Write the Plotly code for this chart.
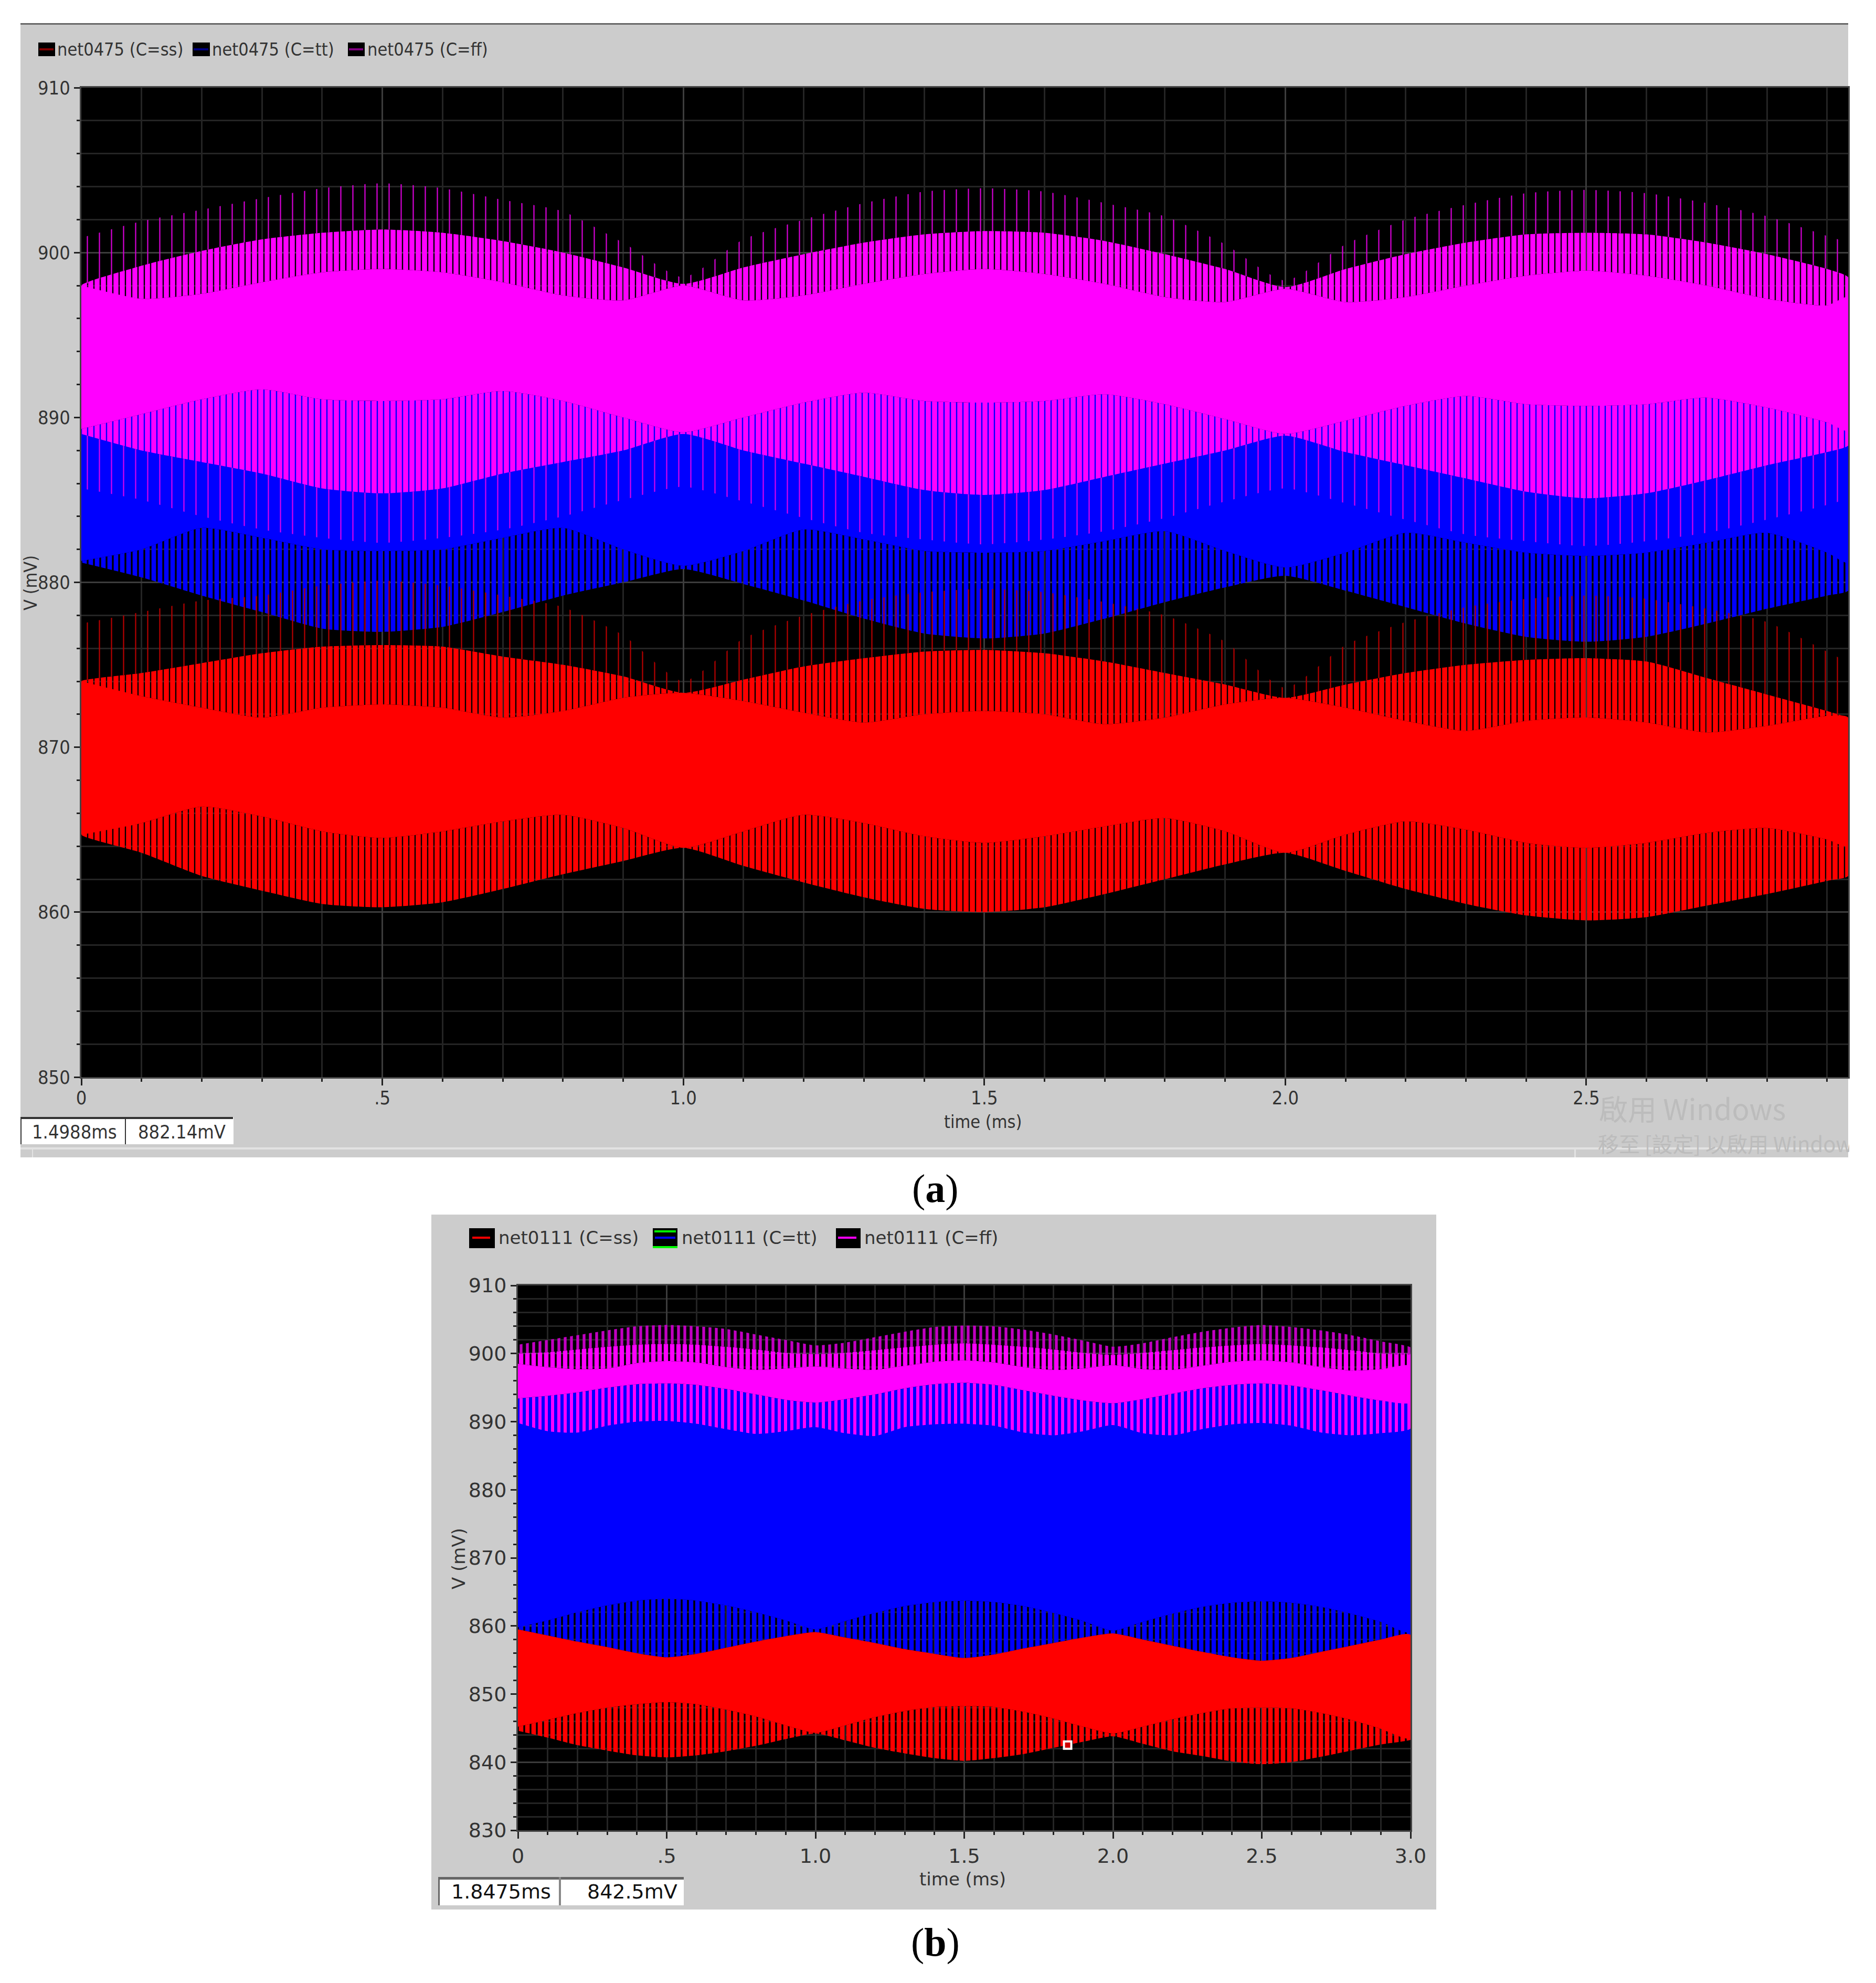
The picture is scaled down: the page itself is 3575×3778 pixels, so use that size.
import plotly.graph_objects as go

page_w = 3575
page_h = 3778
body_margin = 8  # the page keeps the browser's default margin round the plot div

# values, one point per 0.1 ms
t_a = [0, .1, .2, .3, .4, .5, .6, .7, .8, .9, 1.0, 1.1, 1.2, 1.3, 1.4, 1.5, 1.6, 1.7, 1.8, 1.9, 2.0, 2.1, 2.2, 2.3, 2.4, 2.5, 2.6, 2.7, 2.8, 2.9, 2.935]
t_b = [0, .1, .2, .3, .4, .5, .6, .7, .8, .9, 1.0, 1.1, 1.2, 1.3, 1.4, 1.5, 1.6, 1.7, 1.8, 1.9, 2.0, 2.1, 2.2, 2.3, 2.4, 2.5, 2.6, 2.7, 2.8, 2.9, 3.0]

# (a) net0475, C=ff
a_ff_tip = [900.9, 901.9, 902.6, 903.3, 903.9, 904.2, 903.9, 903.2, 902.5, 900.6, 898.5, 900.8, 902, 903, 903.7, 903.9, 903.7, 903, 902.2, 900.5, 898.3, 900.5, 902, 902.9, 903.6, 903.8, 903.6, 903, 902.2, 901, 900.5]
a_ff_top = [898.0, 899.2, 900.1, 900.8, 901.2, 901.4, 901.2, 900.7, 900.0, 899.1, 898.1, 899.1, 899.9, 900.6, 901.1, 901.3, 901.2, 900.7, 899.9, 899, 897.9, 899, 899.9, 900.6, 901.1, 901.2, 901.1, 900.6, 899.9, 899, 898.5]
a_ff_solid_top = [898.0, 897.2, 897.5, 898.2, 898.8, 899.0, 898.8, 898.2, 897.4, 897.1, 898, 897.1, 897.4, 898.1, 898.7, 899, 898.7, 898.1, 897.3, 897, 897.8, 897, 897.3, 898, 898.6, 898.9, 898.6, 898, 897.2, 896.8, 897.3]
a_ff_solid_bot = [889.3, 890.2, 891.1, 891.7, 891.1, 891.0, 891.1, 891.6, 891, 890, 889.1, 890, 890.9, 891.5, 891, 890.9, 891, 891.4, 890.8, 889.9, 889, 889.8, 890.7, 891.3, 890.8, 890.7, 890.8, 891.2, 890.6, 889.7, 889.2]
a_ff_bot = [889, 888, 887.3, 886.6, 885.7, 885.4, 885.7, 886.6, 887.3, 888, 889, 888, 887.2, 886.4, 885.6, 885.3, 885.6, 886.4, 887.2, 888, 888.9, 887.9, 887.1, 886.3, 885.5, 885.1, 885.4, 886.2, 887.1, 887.9, 888.3]
a_ff_low_tip = [885.7, 885, 884, 883.2, 882.7, 882.4, 882.7, 883.2, 884, 885, 885.8, 884.9, 883.9, 883, 882.6, 882.3, 882.6, 883.1, 883.9, 884.9, 885.7, 884.8, 883.8, 882.9, 882.5, 882.2, 882.5, 883, 883.8, 884.7, 885.2]
# (a) net0475, C=tt
a_tt_solid_bot = [881.3, 882, 883.3, 882.7, 882, 881.9, 882, 882.7, 883.3, 882, 881, 881.9, 883.2, 882.6, 881.9, 881.8, 881.9, 882.5, 883.1, 881.9, 880.9, 881.8, 883, 882.4, 881.8, 881.6, 881.8, 882.4, 883, 881.8, 881.2]
a_tt_bot = [881.2, 880.3, 879.2, 878.2, 877.2, 877, 877.3, 878.2, 879.2, 880, 880.8, 879.9, 878.9, 877.8, 876.9, 876.6, 876.9, 877.8, 878.8, 879.7, 880.4, 879.5, 878.5, 877.5, 876.7, 876.4, 876.7, 877.5, 878.4, 879.2, 879.5]
# (a) net0475, C=ss
a_ss_tip = [877.5, 878.2, 878.9, 879.2, 879.8, 880.1, 879.8, 879.2, 878.5, 876.8, 874, 876.6, 878, 878.9, 879.4, 879.6, 879.4, 878.8, 878, 876.4, 873.6, 876.2, 877.6, 878.5, 879, 879.2, 879, 878.4, 877.6, 875.8, 875]
a_ss_top = [874, 874.5, 875.1, 875.7, 876.1, 876.2, 876.1, 875.5, 875, 874.3, 873.3, 874.1, 874.9, 875.4, 875.8, 875.9, 875.7, 875.2, 874.5, 873.8, 873, 873.8, 874.5, 875, 875.3, 875.4, 875.2, 874.2, 873.2, 872.2, 871.8]
a_ss_solid_top = [874, 873.1, 872.4, 871.8, 872.4, 872.6, 872.4, 871.8, 872.2, 873, 873.3, 872.8, 872.1, 871.5, 872, 872.2, 872, 871.4, 871.8, 872.6, 873, 872.4, 871.6, 871, 871.6, 871.8, 871.5, 870.9, 871.3, 871.9, 871.8]
a_ss_solid_bot = [864.7, 865.4, 866.4, 865.8, 864.9, 864.5, 864.9, 865.5, 865.9, 865.1, 863.9, 864.9, 865.9, 865.4, 864.6, 864.2, 864.6, 865.2, 865.7, 864.9, 863.6, 864.7, 865.5, 865, 864.2, 863.9, 864.2, 864.8, 865.1, 864.4, 864]
a_ss_bot = [864.7, 863.6, 862.2, 861.3, 860.5, 860.3, 860.6, 861.4, 862.3, 863.1, 863.9, 862.8, 861.8, 860.9, 860.2, 860, 860.3, 861.1, 862, 862.9, 863.6, 862.5, 861.4, 860.5, 859.8, 859.5, 859.7, 860.4, 861.1, 861.9, 862.2]

# (b) net0111, C=ff
b_ff_tip = [901.3, 902, 902.7, 903.4, 904, 904.2, 904, 903.6, 902.8, 902, 901.2, 901.6, 902.4, 903.2, 903.9, 904.1, 904, 903.5, 902.8, 901.9, 901, 901.5, 902.4, 903.2, 903.8, 904.2, 903.9, 903.4, 902.7, 901.8, 900.9]
b_ff_top = [900, 900.2, 900.6, 901, 901.3, 901.4, 901.3, 901, 900.6, 900.1, 899.9, 900.1, 900.5, 900.9, 901.3, 901.5, 901.3, 901, 900.6, 900.1, 899.8, 900.1, 900.5, 900.9, 901.2, 901.4, 901.2, 900.9, 900.5, 900, 899.9]
b_ff_solid_top = [898.5, 898, 897.7, 897.8, 898.6, 898.9, 898.7, 898, 897.6, 897.8, 898.1, 897.8, 897.6, 898.2, 898.8, 899, 898.7, 898, 897.6, 897.8, 898.3, 897.7, 897.6, 898.2, 898.8, 899, 898.7, 898, 897.5, 897.7, 898.2]
b_ff_solid_bot = [893.4, 893.8, 894.3, 895, 895.5, 895.6, 895.4, 894.8, 894, 893.2, 892.8, 893.3, 894, 894.9, 895.5, 895.7, 895.4, 894.6, 893.8, 893.1, 892.7, 893.3, 894.1, 894.9, 895.4, 895.6, 895.3, 894.6, 893.8, 893.1, 892.8]
b_ff_bot = [889.8, 888.6, 888.4, 889.4, 890, 890.1, 889.7, 888.9, 888.2, 888.6, 889.2, 888.3, 887.9, 889.2, 889.6, 889.7, 889.4, 888.4, 888, 888.6, 889.5, 888.3, 888, 888.9, 889.6, 889.8, 889.4, 888.4, 888, 888.3, 889]
# (b) net0111, C=tt
b_tt_solid_bot = [859.8, 860.8, 862, 863, 863.7, 864, 863.7, 863, 862, 860.8, 859.5, 860.7, 861.9, 862.9, 863.5, 863.7, 863.5, 862.9, 861.9, 860.7, 859.3, 860.6, 861.8, 862.8, 863.4, 863.6, 863.4, 862.8, 861.8, 860.6, 859.1]
# (b) net0111, C=ss
b_ss_top = [859.5, 858.6, 857.7, 856.9, 856, 855.4, 855.9, 856.8, 857.7, 858.5, 859.1, 858.3, 857.5, 856.6, 855.9, 855.3, 855.8, 856.7, 857.5, 858.3, 858.9, 858, 857.1, 856.2, 855.4, 854.9, 855.3, 856.2, 857.1, 858, 858.7]
b_ss_solid_bot = [845.2, 846.2, 847.2, 848, 848.5, 848.8, 848.5, 847.7, 846.7, 845.4, 844.3, 845.4, 846.6, 847.5, 848.1, 848.2, 848.1, 847.4, 846.4, 845.2, 844.2, 845.2, 846.3, 847.2, 847.9, 848, 847.9, 847.2, 846.2, 844.9, 843.5]
b_ss_bot = [844.6, 843.6, 842.5, 841.7, 841, 840.7, 841, 841.6, 842.4, 843.4, 844.2, 843.2, 842.1, 841.3, 840.6, 840.2, 840.6, 841.2, 842.1, 843, 843.8, 842.7, 841.6, 840.9, 840.1, 839.7, 840, 840.8, 841.7, 842.6, 843.3]

# cursor marker in (b)
cursor_t = [1.8475]
cursor_v = [842.5]

x_ticks_a = [0, .5, 1.0, 1.5, 2.0, 2.5]
x_labels_a = ["0", ".5", "1.0", "1.5", "2.0", "2.5"]
x_ticks_b = [0, .5, 1.0, 1.5, 2.0, 2.5, 3.0]
x_labels_b = ["0", ".5", "1.0", "1.5", "2.0", "2.5", "3.0"]
y_ticks_a = [850, 860, 870, 880, 890, 900, 910]
y_ticks_b = [830, 840, 850, 860, 870, 880, 890, 900, 910]

RED = "#ff0000"
BLUE = "#0000ff"
MAGENTA = "#ff00ff"
GRAY = "#cccccc"
NARROW = "DejaVu Sans Condensed"
WIDE = "DejaVu Sans"


def band(t, upper, lower, color, xa, ya, size=None, solidity=None):
    trace = go.Scatter(
        x=t + t[::-1],
        y=upper + lower[::-1],
        mode="lines",
        fill="toself",
        fillcolor=color,
        line=dict(width=0, color=color, shape="spline", smoothing=0.6),
        xaxis=xa,
        yaxis=ya,
        hoverinfo="skip",
        showlegend=False,
    )
    if size:
        trace.fillcolor = "rgba(0,0,0,0)"
        trace.fillpattern = dict(shape="|", size=size, solidity=solidity, fgcolor=color, fgopacity=1,
                                 bgcolor="rgba(0,0,0,0)")
    return trace


fig = go.Figure()

# panel (a), back to front
fig.add_trace(band(t_a, a_ff_solid_bot, a_tt_solid_bot, BLUE, "x", "y"))
fig.add_trace(band(t_a, a_tt_solid_bot, a_tt_bot, BLUE, "x", "y", 12, 0.72))
fig.add_trace(band(t_a, a_ss_top, a_ss_solid_top, RED, "x", "y", 12, 0.8))
fig.add_trace(band(t_a, a_ss_tip, a_ss_top, "#b00000", "x", "y", 23, 0.1))
fig.add_trace(band(t_a, a_ss_solid_top, a_ss_solid_bot, RED, "x", "y"))
fig.add_trace(band(t_a, a_ss_solid_bot, a_ss_bot, RED, "x", "y", 12, 0.8))
fig.add_trace(band(t_a, a_ff_top, a_ff_solid_top, MAGENTA, "x", "y", 12, 0.8))
fig.add_trace(band(t_a, a_ff_tip, a_ff_top, "#d000d0", "x", "y", 23, 0.1))
fig.add_trace(band(t_a, a_ff_solid_top, a_ff_solid_bot, MAGENTA, "x", "y"))
fig.add_trace(band(t_a, a_ff_solid_bot, a_ff_bot, MAGENTA, "x", "y", 12, 0.8))
fig.add_trace(band(t_a, a_ff_bot, a_ff_low_tip, "#d000f0", "x", "y", 23, 0.1))

# panel (b), back to front
fig.add_trace(band(t_b, b_ff_solid_bot, b_tt_solid_bot, BLUE, "x2", "y2"))
fig.add_trace(band(t_b, b_tt_solid_bot, b_ss_top, BLUE, "x2", "y2", 12, 0.7))
fig.add_trace(band(t_b, b_ss_top, b_ss_solid_bot, RED, "x2", "y2"))
fig.add_trace(band(t_b, b_ss_solid_bot, b_ss_bot, RED, "x2", "y2", 12, 0.72))
fig.add_trace(band(t_b, b_ff_top, b_ff_solid_top, MAGENTA, "x2", "y2", 12, 0.7))
fig.add_trace(band(t_b, b_ff_tip, b_ff_top, "#c000c0", "x2", "y2", 12, 0.45))
fig.add_trace(band(t_b, b_ff_solid_top, b_ff_solid_bot, MAGENTA, "x2", "y2"))
fig.add_trace(band(t_b, b_ff_solid_bot, b_ff_bot, MAGENTA, "x2", "y2", 12, 0.5))
fig.add_trace(go.Scatter(x=cursor_t, y=cursor_v, mode="markers", xaxis="x2", yaxis="y2",
                         marker=dict(symbol="square", size=14, color="#d00000", line=dict(color="white", width=4)),
                         hoverinfo="skip", showlegend=False))


def px_x(x):
    return (x - body_margin) / page_w


def px_y(y):
    return 1 - (y - body_margin) / page_h


def rect(x0, y0, x1, y1, fill, layer="below"):
    return dict(type="rect", xref="paper", yref="paper", x0=px_x(x0), x1=px_x(x1), y0=px_y(y0), y1=px_y(y1),
                fillcolor=fill, line=dict(width=0), layer=layer)


def label(x, y, text, size, family=NARROW, color="#333333", xanchor="center", textangle=0, **kw):
    return dict(xref="paper", yref="paper", x=px_x(x), y=px_y(y), text=text, showarrow=False, xanchor=xanchor,
                yanchor="middle", textangle=textangle, font=dict(size=size, family=family, color=color), **kw)


def swatch(x0, x1, y0, y1, line_x0, line_x1, line_y, color, weight=4):
    return [rect(x0, y0, x1, y1, "#000000"), rect(line_x0, line_y - weight / 2, line_x1, line_y + weight / 2, color)]


shapes = [
    # panel chrome
    rect(39, 45, 3522, 2205, GRAY),
    rect(39, 44, 3522, 47, "#666666"),
    rect(39, 2186, 3522, 2190, "#e2e2e2"),
    rect(61, 2190, 63, 2205, "#e2e2e2"),
    rect(3000, 2190, 3003, 2205, "#e2e2e2"),
    rect(822, 2314, 2737, 3638, GRAY),
    # plot backgrounds
    rect(155, 167, 3522, 2055, "#000000"),
    rect(987, 2449, 2688, 3487, "#000000"),
    # readout boxes
    rect(39, 2128, 445, 2180, "#ffffff"),
    rect(39, 2128, 444, 2132, "#333333"),
    rect(39, 2128, 41, 2180, "#333333"),
    rect(238, 2128, 240, 2180, "#333333"),
    rect(835, 3576, 1303, 3630, "#ffffff"),
    rect(835, 3576, 1303, 3581, "#666666"),
    rect(835, 3576, 838, 3630, "#666666"),
    rect(1065, 3576, 1069, 3630, "#888888"),
]
# legend swatches
shapes += swatch(73, 105, 81, 107, 75, 102, 94, "#800000")
shapes += swatch(367, 400, 81, 107, 369, 397, 94, "#000080")
shapes += swatch(663, 695, 81, 107, 665, 692, 94, "#800080")
shapes += swatch(894, 943, 2340, 2378, 900, 934, 2358, RED)
shapes += swatch(1244, 1291, 2340, 2378, 1248, 1287, 2358, BLUE)
shapes += [rect(1247, 2344, 1288, 2348, "#00ff00"), rect(1244, 2374, 1291, 2378, "#00ff00")]
shapes += swatch(1593, 1640, 2340, 2378, 1597, 1632, 2358, MAGENTA)

annotations = [
    label(107, 94, "net0475 (C=ss)", 34, xanchor="left"),
    label(402, 94, "net0475 (C=tt)", 34, xanchor="left"),
    label(698, 94, "net0475 (C=ff)", 34, xanchor="left"),
    label(948, 2358, "net0111 (C=ss)", 34, WIDE, xanchor="left"),
    label(1297, 2358, "net0111 (C=tt)", 34, WIDE, xanchor="left"),
    label(1645, 2358, "net0111 (C=ff)", 34, WIDE, xanchor="left"),
    label(1873, 2137, "time (ms)", 34),
    label(58, 1111, "V (mV)", 34, textangle=-90),
    label(1834, 3580, "time (ms)", 34, WIDE),
    label(874, 2970, "V (mV)", 34, WIDE, textangle=-90),
    label(142, 2156, "1.4988ms", 36),
    label(346, 2156, "882.14mV", 36),
    label(955, 3604, "1.8475ms", 38, WIDE, color="#111111"),
    label(1205, 3604, "842.5mV", 38, WIDE, color="#111111"),
    label(3045, 2110, "啟用 Windows", 55, "Noto Sans CJK TC", "#bcbcbc", xanchor="left"),
    label(3043, 2178, "移至 [設定] 以啟用 Windows", 40, "Noto Sans CJK TC", "#bcbcbc", xanchor="left", width=479, align="left"),
    label(1782, 2264, "(<b>a</b>)", 76, "Liberation Serif", "#000000"),
    label(1782, 3700, "(<b>b</b>)", 76, "Liberation Serif", "#000000"),
]


def x_axis(domain, rng, ticks, labels, family, size, anchor, standoff=0):
    return dict(domain=domain, range=rng, anchor=anchor, tickvals=ticks, ticktext=labels, ticks="outside", ticklen=13,
                tickwidth=3, tickcolor="#222222", tickfont=dict(family=family, size=size, color="#333333"),
                ticklabelstandoff=standoff,
                showgrid=True, gridcolor="#3c3c3c", gridwidth=3, zeroline=False, showline=True, linecolor="#444444",
                linewidth=3, mirror=True,
                minor=dict(tick0=0, dtick=0.1, ticks="outside", ticklen=6, tickwidth=3, tickcolor="#222222",
                           showgrid=True, gridcolor="#242424", gridwidth=3))


def y_axis(domain, rng, ticks, family, size, anchor):
    return dict(domain=domain, range=rng, anchor=anchor, tickvals=ticks, ticks="outside", ticklen=11,
                tickwidth=3, tickcolor="#222222", tickfont=dict(family=family, size=size, color="#333333"),
                showgrid=True, gridcolor="#3c3c3c", gridwidth=3, zeroline=False, showline=True, linecolor="#444444",
                linewidth=3, mirror=True,
                minor=dict(tick0=0, dtick=2, ticks="outside", ticklen=6, tickwidth=3, tickcolor="#222222",
                           showgrid=True, gridcolor="#242424", gridwidth=3))


fig.update_layout(
    width=page_w,
    height=page_h,
    margin=dict(l=0, r=0, t=0, b=0, autoexpand=False),
    autosize=False,
    paper_bgcolor="white",
    plot_bgcolor="rgba(0,0,0,0)",
    shapes=shapes,
    annotations=annotations,
    xaxis=x_axis([px_x(155), px_x(3522)], [0, 2.935], x_ticks_a, x_labels_a, NARROW, 36, "y", -7),
    yaxis=y_axis([px_y(2052), px_y(167)], [850, 910], y_ticks_a, NARROW, 36, "x"),
    xaxis2=x_axis([px_x(987), px_x(2688)], [0, 3], x_ticks_b, x_labels_b, WIDE, 38, "y2"),
    yaxis2=y_axis([px_y(3487), px_y(2449)], [830, 910], y_ticks_b, WIDE, 38, "x2"),
)

fig.write_html("out.html")
